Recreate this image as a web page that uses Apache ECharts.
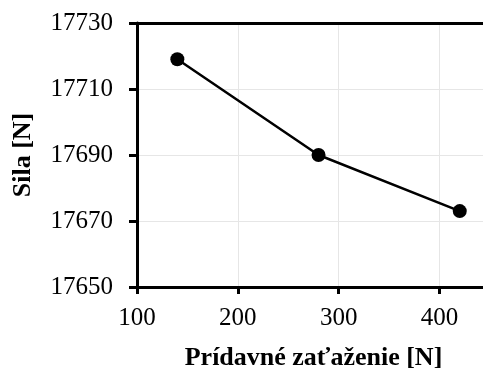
<!DOCTYPE html>
<html>
<head>
<meta charset="utf-8">
<script src="https://cdn.jsdelivr.net/npm/echarts@6/dist/echarts.min.js"></script>
<style>
  html, body { margin: 0; padding: 0; background: #fff; }
  #chart { width: 483px; height: 371px; }
</style>
</head>
<body>
<div id="chart"></div>
<script>
// Additional load [N] and resulting force [N]
const loads = [140, 280, 420];
const forces = [17719, 17690, 17673];
const xTicks = [100, 200, 300, 400];
const yTicks = [17650, 17670, 17690, 17710, 17730];

const xTitle = 'Prídavné zaťaženie [N]';
const yTitle = 'Sila [N]';

const serif = '"Liberation Serif", "DejaVu Serif", serif';
const plain = v => String(v);

const chart = echarts.init(document.getElementById('chart'));
chart.setOption({
  animation: false,
  backgroundColor: '#ffffff',
  grid: { left: 137, top: 23, right: -7, bottom: 84, containLabel: false, outerBoundsMode: 'none' },
  xAxis: [{
    type: 'value',
    min: xTicks[0],
    max: 450,
    interval: 100,
    name: xTitle,
    nameLocation: 'middle',
    nameGap: 58,
    nameTextStyle: { fontFamily: serif, fontSize: 26, fontWeight: 'bold', color: '#000' },
    axisLine: { onZero: false, lineStyle: { color: '#000', width: 3 } },
    axisTick: { show: true, length: 7, lineStyle: { color: '#000', width: 3 } },
    axisLabel: { fontFamily: serif, fontSize: 25, color: '#000', margin: 19, showMaxLabel: false, formatter: plain },
    splitLine: { show: true, lineStyle: { color: '#e6e6e6', width: 1 } }
  }, {
    type: 'value',
    position: 'top',
    min: xTicks[0],
    max: 450,
    interval: 100,
    axisLine: { onZero: false, lineStyle: { color: '#000', width: 3 } },
    axisTick: { show: false },
    axisLabel: { show: false },
    splitLine: { show: false }
  }],
  yAxis: {
    type: 'value',
    min: yTicks[0],
    max: yTicks[yTicks.length - 1],
    interval: 20,
    name: yTitle,
    nameLocation: 'middle',
    nameGap: 101,
    nameTextStyle: { fontFamily: serif, fontSize: 26, fontWeight: 'bold', color: '#000' },
    axisLine: { show: true, onZero: false, lineStyle: { color: '#000', width: 3 } },
    axisTick: { show: true, length: 8, lineStyle: { color: '#000', width: 3 } },
    axisLabel: { fontFamily: serif, fontSize: 25, color: '#000', margin: 24, formatter: plain },
    splitLine: { show: true, lineStyle: { color: '#e6e6e6', width: 1 } }
  },
  series: [{
    type: 'line',
    xAxisIndex: 0,
    data: loads.map((x, i) => [x, forces[i]]),
    symbol: 'circle',
    symbolSize: 14,
    itemStyle: { color: '#000' },
    lineStyle: { color: '#000', width: 2.5 }
  }]
});
</script>
</body>
</html>
